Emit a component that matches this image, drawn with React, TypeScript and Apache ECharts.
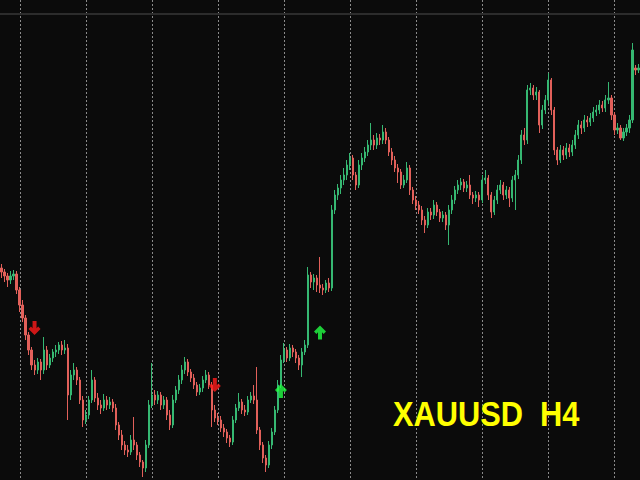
import React, { useEffect, useRef } from "react";
import * as echarts from "echarts";

// XAUUSD H4 candles (price units), one bar per entry
const OPEN = [
  1732,1728,1724,1720,1724,1726,1710,1695,1682,1665,
  1650,1635,1630,1638,1630,1650,1635,1642,1648,1650,
  1655,1650,1652,1605,1625,1630,1620,1600,1580,1585,
  1600,1620,1602,1595,1592,1600,1595,1598,1592,1575,
  1565,1555,1550,1548,1560,1555,1545,1538,1532,1555,
  1595,1605,1600,1605,1595,1600,1585,1575,1600,1610,
  1620,1630,1638,1628,1622,1615,1608,1612,1620,1625,
  1615,1590,1582,1580,1572,1568,1562,1558,1580,1592,
  1598,1590,1588,1600,1604,1600,1570,1555,1542,1535,
  1555,1568,1590,1615,1640,1650,1642,1652,1648,1642,
  1635,1648,1655,1725,1718,1722,1715,1712,1710,1717,
  1712,1790,1805,1812,1820,1825,1835,1842,1825,1815,
  1835,1842,1848,1855,1860,1855,1862,1860,1868,1860,
  1848,1840,1832,1828,1815,1820,1832,1810,1800,1795,
  1790,1780,1775,1788,1785,1795,1788,1782,1785,1775,
  1790,1800,1810,1815,1818,1812,1815,1805,1802,1805,
  1800,1820,1822,1805,1788,1800,1810,1815,1805,1810,
  1802,1820,1825,1840,1865,1860,1910,1912,1905,1908,
  1875,1890,1900,1920,1890,1850,1840,1850,1845,1852,
  1848,1855,1865,1875,1872,1880,1878,1882,1888,1890,
  1895,1892,1900,1902,1885,1870,1872,1862,1868,1872,
  1880,1932,1930,
];
const CLOSE = [
  1728,1724,1720,1724,1726,1710,1695,1682,1665,1650,
  1635,1630,1638,1630,1650,1635,1642,1648,1650,1655,
  1650,1652,1605,1625,1630,1620,1600,1580,1585,1600,
  1620,1602,1595,1592,1600,1595,1598,1592,1575,1565,
  1555,1550,1548,1560,1555,1545,1538,1532,1555,1595,
  1605,1600,1605,1595,1600,1585,1575,1600,1610,1620,
  1630,1638,1628,1622,1615,1608,1612,1620,1625,1615,
  1590,1582,1580,1572,1568,1562,1558,1580,1592,1598,
  1590,1588,1600,1604,1600,1570,1555,1542,1535,1555,
  1568,1590,1615,1640,1650,1642,1652,1648,1642,1635,
  1648,1655,1725,1718,1722,1715,1712,1710,1717,1712,
  1790,1805,1812,1820,1825,1835,1842,1825,1815,1835,
  1842,1848,1855,1860,1855,1862,1860,1868,1860,1848,
  1840,1832,1828,1815,1820,1832,1810,1800,1795,1790,
  1780,1775,1788,1785,1795,1788,1782,1785,1775,1790,
  1800,1810,1815,1818,1812,1815,1805,1802,1805,1800,
  1820,1822,1805,1788,1800,1810,1815,1805,1810,1802,
  1820,1825,1840,1865,1860,1910,1912,1905,1908,1875,
  1890,1900,1920,1890,1850,1840,1850,1845,1852,1848,
  1855,1865,1875,1872,1880,1878,1882,1888,1890,1895,
  1892,1900,1902,1885,1870,1872,1862,1868,1872,1880,
  1950,1930,1932,
];
const LOW = [
  1722,1718,1713,1716,1720,1706,1688,1678,1660,1645,
  1630,1625,1626,1620,1626,1630,1632,1638,1643,1646,
  1645,1646,1580,1600,1620,1615,1596,1573,1576,1581,
  1597,1598,1590,1586,1589,1590,1591,1588,1570,1560,
  1550,1545,1543,1545,1550,1540,1533,1523,1528,1552,
  1592,1595,1596,1590,1591,1580,1570,1572,1597,1606,
  1616,1626,1624,1618,1611,1604,1605,1608,1617,1611,
  1573,1578,1575,1568,1563,1557,1553,1555,1577,1589,
  1586,1584,1585,1597,1596,1566,1550,1537,1528,1532,
  1551,1565,1587,1612,1637,1638,1639,1643,1637,1630,
  1623,1645,1652,1712,1710,1708,1707,1705,1707,1708,
  1709,1786,1800,1806,1815,1820,1830,1820,1810,1812,
  1830,1838,1844,1850,1850,1851,1855,1856,1856,1844,
  1835,1828,1817,1811,1812,1817,1805,1796,1790,1786,
  1775,1767,1772,1780,1781,1784,1778,1778,1770,1755,
  1786,1796,1806,1810,1808,1808,1801,1796,1798,1793,
  1797,1816,1800,1782,1785,1796,1806,1800,1801,1793,
  1798,1790,1821,1836,1855,1856,1905,1900,1900,1867,
  1871,1886,1896,1885,1845,1835,1837,1840,1841,1843,
  1844,1851,1861,1866,1868,1873,1874,1878,1884,1886,
  1888,1888,1896,1880,1865,1866,1860,1859,1864,1867,
  1877,1925,1927,
];
const HIGH = [
  1736,1731,1727,1729,1730,1729,1713,1700,1685,1668,
  1653,1640,1642,1641,1663,1654,1646,1651,1655,1658,
  1659,1660,1656,1630,1637,1633,1623,1604,1590,1604,
  1630,1623,1607,1600,1606,1604,1603,1601,1596,1578,
  1570,1559,1555,1565,1583,1558,1548,1540,1560,1600,
  1637,1610,1609,1608,1604,1603,1590,1605,1614,1625,
  1635,1643,1641,1631,1626,1618,1616,1624,1630,1628,
  1618,1595,1587,1584,1576,1571,1565,1584,1596,1607,
  1601,1595,1604,1608,1615,1633,1573,1558,1545,1559,
  1572,1594,1620,1645,1657,1653,1656,1655,1651,1645,
  1652,1660,1733,1728,1726,1725,1743,1716,1720,1722,
  1795,1810,1816,1825,1832,1840,1847,1845,1828,1840,
  1847,1853,1860,1877,1865,1867,1866,1875,1872,1863,
  1852,1844,1836,1831,1825,1838,1835,1813,1804,1799,
  1794,1784,1792,1792,1800,1798,1791,1789,1788,1795,
  1805,1814,1820,1822,1821,1819,1825,1808,1809,1808,
  1825,1830,1825,1808,1804,1815,1820,1818,1814,1813,
  1824,1830,1845,1870,1872,1915,1917,1915,1913,1910,
  1895,1905,1927,1922,1893,1853,1855,1854,1857,1856,
  1860,1870,1880,1879,1885,1884,1887,1893,1895,1900,
  1899,1905,1918,1905,1888,1877,1875,1872,1876,1885,
  1957,1935,1936,
];

// signal arrows: [bar index, price]
const SELL_ARROWS = [[11, 1672], [71, 1615]];
const BUY_ARROWS = [[93, 1609], [106, 1667.5]];

const PRICE_MIN = 1520;
const PRICE_MAX = 2000;
const TOP_LINE = 1986;
const TITLE = "XAUUSD  H4";

const UP_ARROW =
  "path://M6 0 L12 6 L9.6 8.4 L8 6.8 L8 14 L4 14 L4 6.8 L2.4 8.4 L0 6 Z";
const DOWN_ARROW =
  "path://M6 14 L12 8 L9.6 5.6 L8 7.2 L8 0 L4 0 L4 7.2 L2.4 5.6 L0 8 Z";

export default function App() {
  const ref = useRef<HTMLDivElement>(null);

  useEffect(() => {
    document.body.style.margin = "0";
    const chart = echarts.init(ref.current!, null, { renderer: "svg" });
    const bars = CLOSE.map((_, i) => String(i));
    const candles = CLOSE.map((c, i) => [OPEN[i], c, LOW[i], HIGH[i]]);

    chart.setOption({
      animation: false,
      backgroundColor: "#0b0b0b",
      grid: [
        { left: 0, right: 0, top: 0, bottom: 0 },
        { left: 20, right: 0, top: 0, bottom: 0 },
      ],
      xAxis: [
        {
          type: "category",
          gridIndex: 0,
          data: bars,
          boundaryGap: true,
          axisLine: { show: false },
          axisTick: { show: false },
          axisLabel: { show: false },
          splitLine: { show: false },
        },
        {
          type: "value",
          gridIndex: 1,
          min: 0,
          max: 620,
          interval: 66,
          axisLine: { show: false },
          axisTick: { show: false },
          axisLabel: { show: false },
          splitLine: {
            show: true,
            showMaxLine: false,
            lineStyle: { color: "#8a8a8a", width: 1, type: [2, 2] },
          },
        },
      ],
      yAxis: [
        {
          type: "value",
          gridIndex: 0,
          min: PRICE_MIN,
          max: PRICE_MAX,
          axisLine: { show: false },
          axisTick: { show: false },
          axisLabel: { show: false },
          splitLine: { show: false },
        },
        {
          type: "value",
          gridIndex: 1,
          axisLine: { show: false },
          axisTick: { show: false },
          axisLabel: { show: false },
          splitLine: { show: false },
        },
      ],
      series: [
        {
          type: "candlestick",
          xAxisIndex: 0,
          yAxisIndex: 0,
          data: candles,
          barWidth: 1.6,
          z: 3,
          itemStyle: {
            color: "#36b872",
            color0: "#e2605a",
            borderColor: "#36b872",
            borderColor0: "#e2605a",
            borderWidth: 1,
          },
          markLine: {
            silent: true,
            symbol: "none",
            label: { show: false },
            lineStyle: { color: "#2c2c2c", width: 2, type: "solid" },
            data: [{ yAxis: TOP_LINE }],
          },
        },
        {
          type: "scatter",
          xAxisIndex: 0,
          yAxisIndex: 0,
          data: SELL_ARROWS,
          symbol: DOWN_ARROW,
          symbolSize: [12, 14],
          itemStyle: { color: "#ff1a1a" },
          z: 5,
        },
        {
          type: "scatter",
          xAxisIndex: 0,
          yAxisIndex: 0,
          data: BUY_ARROWS,
          symbol: UP_ARROW,
          symbolSize: [12, 14],
          itemStyle: { color: "#22ff44" },
          z: 5,
        },
      ],
      graphic: [
        {
          type: "text",
          x: 393,
          y: 413.5,
          scaleX: 0.88,
          z: 10,
          style: {
            text: TITLE,
            fill: "#ffff00",
            font: "bold 35px 'Liberation Sans', Arial, sans-serif",
            textAlign: "left",
            textVerticalAlign: "middle",
          },
        },
      ],
    });

    return () => chart.dispose();
  }, []);

  return (
    <div
      ref={ref}
      style={{ position: "fixed", left: 0, top: 0, width: 640, height: 480 }}
    />
  );
}
